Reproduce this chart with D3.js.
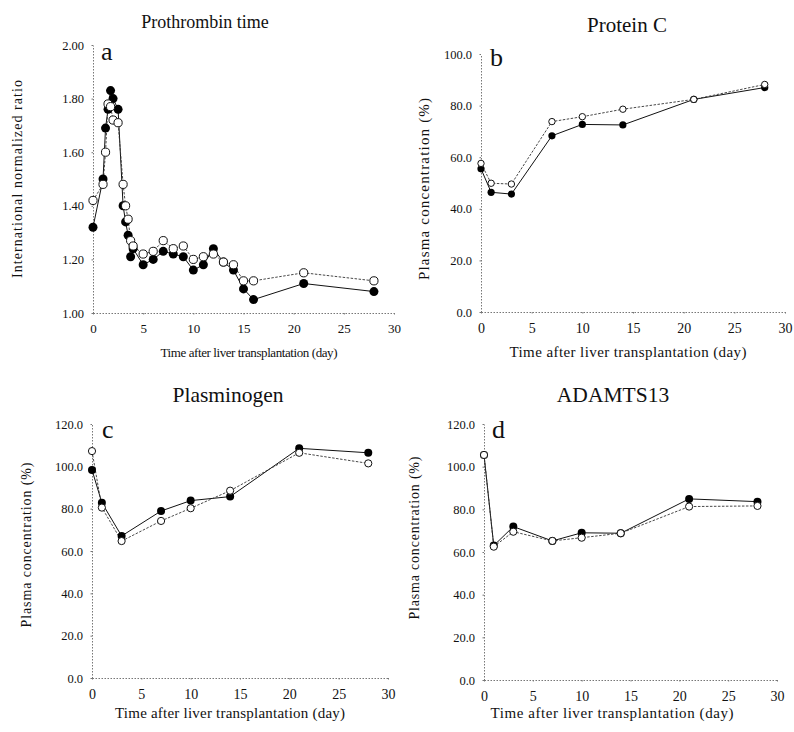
<!DOCTYPE html>
<html>
<head>
<meta charset="utf-8">
<title>Coagulation after liver transplantation</title>
<script src="https://cdn.jsdelivr.net/npm/d3@7"></script>
<style>
    body { margin: 0; background: #fff; }
    svg text { font-family: "Liberation Serif", "Times New Roman", serif; fill: #111; }
    .axis path, .axis line { stroke: #777; stroke-dasharray: 1.5,1.5; }
</style>
</head>
<body>
<svg id="chart" width="794" height="732"></svg>
<script>
    // ---- data ----
    const xTicks = [0, 5, 10, 15, 20, 25, 30];

    // a: prothrombin time (INR)
    const daysA = [0, 1, 1.25, 1.5, 1.75, 2, 2.5, 3, 3.25, 3.5, 3.75, 4, 5, 6, 7, 8, 9, 10, 11, 12, 13, 14, 15, 16, 21, 28];
    const inrFilled = [1.32, 1.50, 1.69, 1.76, 1.83, 1.80, 1.76, 1.40, 1.34, 1.29, 1.21, 1.24, 1.18, 1.20, 1.23, 1.22, 1.21, 1.16, 1.18, 1.24, 1.19, 1.16, 1.09, 1.05, 1.11, 1.08];
    const inrOpen = [1.42, 1.48, 1.60, 1.78, 1.77, 1.72, 1.71, 1.48, 1.40, 1.35, 1.27, 1.25, 1.22, 1.23, 1.27, 1.24, 1.25, 1.20, 1.21, 1.22, 1.19, 1.18, 1.12, 1.12, 1.15, 1.12];
    const inrTicks = [1.0, 1.2, 1.4, 1.6, 1.8, 2.0];

    // b, c, d share sampling days
    const days = [0, 1, 3, 7, 10, 14, 21, 28];
    const proteinCFilled = [55.5, 46.4, 45.7, 68.3, 72.7, 72.5, 82.4, 87.0];
    const proteinCOpen = [57.6, 49.9, 49.6, 73.8, 75.7, 78.6, 82.4, 88.2];
    const proteinCTicks = [0, 20, 40, 60, 80, 100];

    const plasminogenFilled = [98.3, 82.8, 67.1, 78.9, 83.8, 85.7, 108.5, 106.4];
    const plasminogenOpen = [107.2, 80.5, 64.7, 74.2, 80.2, 88.5, 106.4, 101.4];

    const adamtsFilled = [105.5, 63.0, 71.9, 65.2, 69.0, 68.8, 84.9, 83.6];
    const adamtsOpen = [105.5, 62.5, 69.5, 65.2, 66.7, 68.8, 81.3, 81.6];
    const pctTicks = [0, 20, 40, 60, 80, 100, 120];

    const xTitle = "Time after liver transplantation (day)";
    const yTitlePct = "Plasma concentration (%)";

    const serif = '"Liberation Serif", "Times New Roman", serif';
    const svg = d3.select("#chart");

    // layout per panel (pixel placement of axes and labels; lengths are text widths)
    const panels = [
        {letter: "a", title: "Prothrombin time", yTitle: "International normalized ratio",
         xs: daysA, filled: inrFilled, open: inrOpen, ticks: inrTicks, fmt: ".2f", domain: [1, 2],
         left: 93, right: 394, top: 45, bottom: 313, r: 4.5, xTickSize: 13,
         titleX: 205, titleY: 28, titleSize: 18, letterX: 101, letterY: 60,
         xLabX: 249, xLabY: 357, xLabSize: 13, xLabLen: 177,
         yLabX: 22, yLabY: 179, yLabSize: 14, yLabLen: 198},
        {letter: "b", title: "Protein C", yTitle: yTitlePct,
         xs: days, filled: proteinCFilled, open: proteinCOpen, ticks: proteinCTicks, fmt: ".1f", domain: [0, 100],
         left: 481, right: 785, top: 54, bottom: 312, r: 3.6, xTickSize: 14,
         titleX: 627, titleY: 32, titleSize: 21, letterX: 490, letterY: 66,
         xLabX: 628, xLabY: 357, xLabSize: 15, xLabLen: 237,
         yLabX: 429, yLabY: 189, yLabSize: 15, yLabLen: 182},
        {letter: "c", title: "Plasminogen", yTitle: yTitlePct,
         xs: days, filled: plasminogenFilled, open: plasminogenOpen, ticks: pctTicks, fmt: ".1f", domain: [0, 120],
         left: 92, right: 388, top: 424, bottom: 678, r: 4, xTickSize: 14,
         titleX: 228, titleY: 402, titleSize: 21.5, letterX: 102, letterY: 438,
         xLabX: 230, xLabY: 718, xLabSize: 15, xLabLen: 230,
         yLabX: 31, yLabY: 545, yLabSize: 14, yLabLen: 165},
        {letter: "d", title: "ADAMTS13", yTitle: yTitlePct,
         xs: days, filled: adamtsFilled, open: adamtsOpen, ticks: pctTicks, fmt: ".1f", domain: [0, 120],
         left: 484, right: 777, top: 424, bottom: 680, r: 4, xTickSize: 14,
         titleX: 613, titleY: 402, titleSize: 21.5, letterX: 492, letterY: 438,
         xLabX: 612, xLabY: 718, xLabSize: 15, xLabLen: 243,
         yLabX: 419, yLabY: 538, yLabSize: 14, yLabLen: 163}
    ];

    function drawPanel(p) {
        const x = d3.scaleLinear().domain([0, 30]).range([p.left, p.right]);
        const y = d3.scaleLinear().domain(p.domain).range([p.bottom, p.top]);
        const g = svg.append("g");

        // axes
        g.append("g").attr("class", "axis")
            .attr("transform", "translate(0," + p.bottom + ")")
            .call(d3.axisBottom(x).tickValues(xTicks).tickSize(2).tickSizeOuter(0).tickPadding(9).tickFormat(d3.format("d")))
            .attr("font-family", serif)
            .call(a => a.selectAll("text").style("font-family", serif)
                .style("font-size", p.xTickSize + "px").attr("fill", "#111"));
        g.append("g").attr("class", "axis")
            .attr("transform", "translate(" + p.left + ",0)")
            .call(d3.axisLeft(y).tickValues(p.ticks).tickSize(2).tickSizeOuter(0).tickPadding(7).tickFormat(d3.format(p.fmt)))
            .attr("font-family", serif)
            .call(a => a.selectAll("text").style("font-family", serif)
                .style("font-size", "12.5px").attr("fill", "#111"));

        const line = d3.line().x((d, i) => x(p.xs[i])).y(d => y(d));

        // filled series (solid line), then open series on top (dashed)
        g.append("path").datum(p.filled)
            .attr("d", line).attr("fill", "none")
            .attr("stroke", "#111").attr("stroke-width", 1);
        g.append("path").datum(p.open)
            .attr("d", line).attr("fill", "none")
            .attr("stroke", "#333").attr("stroke-width", 0.9).attr("stroke-dasharray", "2.5,1.5");

        g.selectAll(".dotF").data(p.filled).enter().append("circle")
            .attr("cx", (d, i) => x(p.xs[i])).attr("cy", d => y(d)).attr("r", p.r)
            .attr("fill", "#000");
        g.selectAll(".dotO").data(p.open).enter().append("circle")
            .attr("cx", (d, i) => x(p.xs[i])).attr("cy", d => y(d)).attr("r", p.r - 0.4)
            .attr("fill", "#fff").attr("stroke", "#111").attr("stroke-width", 1);

        // texts
        g.append("text").attr("x", p.titleX).attr("y", p.titleY)
            .attr("text-anchor", "middle").style("font-size", p.titleSize + "px").text(p.title);
        g.append("text").attr("x", p.letterX).attr("y", p.letterY)
            .style("font-size", "26px").text(p.letter);
        g.append("text").attr("x", p.xLabX).attr("y", p.xLabY)
            .attr("text-anchor", "middle").style("font-size", p.xLabSize + "px")
            .attr("textLength", p.xLabLen).text(xTitle);
        g.append("text")
            .attr("transform", "translate(" + p.yLabX + "," + p.yLabY + ") rotate(-90)")
            .attr("text-anchor", "middle").style("font-size", p.yLabSize + "px")
            .attr("textLength", p.yLabLen).text(p.yTitle);
    }

    panels.forEach(drawPanel);
</script>
</body>
</html>
